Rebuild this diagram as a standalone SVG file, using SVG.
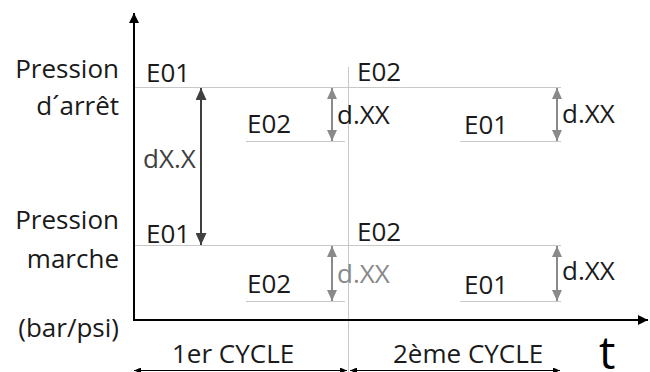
<svg xmlns="http://www.w3.org/2000/svg" width="650" height="372" viewBox="0 0 650 372">
<style>
text{font-family:"Open Sans","Liberation Sans",Arial,sans-serif;font-size:26px;fill:#1a1a1a}
.lbl{text-anchor:end}
.grid{stroke:#c8c8c8;stroke-width:1;fill:none}
.axis{stroke:#000;stroke-width:2;fill:none}
.dim{stroke:#404040;stroke-width:2;fill:none}
.sdim{stroke:#8a8a8a;stroke-width:2;fill:none}
.cyc{stroke:#000;stroke-width:1;fill:none}
</style>
<defs>
<marker id="ah" markerUnits="userSpaceOnUse" markerWidth="10" markerHeight="10" refX="10" refY="5" orient="auto-start-reverse"><path d="M0,0L10,5L0,10z" fill="#000"/></marker>
<marker id="dh" markerUnits="userSpaceOnUse" markerWidth="12" markerHeight="11" refX="12" refY="5.5" orient="auto-start-reverse"><path d="M0,0L12,5.5L0,11z" fill="#404040"/></marker>
<marker id="gh" markerUnits="userSpaceOnUse" markerWidth="11" markerHeight="10" refX="11" refY="5" orient="auto-start-reverse"><path d="M0,0L11,5L0,10z" fill="#8a8a8a"/></marker>
<marker id="ch" markerUnits="userSpaceOnUse" markerWidth="7" markerHeight="6" refX="7" refY="3" orient="auto-start-reverse"><path d="M0,0L7,3L0,6z" fill="#000"/></marker>
</defs>
<g id="grid">
<line class="grid" x1="134" y1="87.5" x2="561" y2="87.5"/>
<line class="grid" x1="246" y1="141.5" x2="345" y2="141.5"/>
<line class="grid" x1="460" y1="141.5" x2="561" y2="141.5"/>
<line class="grid" x1="134" y1="245.5" x2="561" y2="245.5"/>
<line class="grid" x1="246" y1="301.5" x2="345" y2="301.5"/>
<line class="grid" x1="460" y1="301.5" x2="561" y2="301.5"/>
<line class="grid" x1="348.5" y1="67" x2="348.5" y2="372" stroke="#d4d4d4"/>
</g>
<g id="axes">
<line class="axis" x1="134" y1="321" x2="134" y2="13" marker-end="url(#ah)"/>
<line class="axis" x1="133" y1="320" x2="648" y2="320" marker-end="url(#ah)"/>
</g>
<g id="connectors">
<line class="dim" x1="201" y1="88" x2="201" y2="245" marker-start="url(#dh)" marker-end="url(#dh)"/>
<line class="sdim" x1="332" y1="88" x2="332" y2="141" marker-start="url(#gh)" marker-end="url(#gh)"/>
<line class="sdim" x1="557" y1="88" x2="557" y2="141" marker-start="url(#gh)" marker-end="url(#gh)"/>
<line class="sdim" x1="332" y1="246" x2="332" y2="301" marker-start="url(#gh)" marker-end="url(#gh)"/>
<line class="sdim" x1="557" y1="246" x2="557" y2="301" marker-start="url(#gh)" marker-end="url(#gh)"/>
<line class="cyc" x1="134" y1="370.5" x2="347" y2="370.5" marker-start="url(#ch)" marker-end="url(#ch)"/>
<line class="cyc" x1="350" y1="370.5" x2="560" y2="370.5" marker-start="url(#ch)" marker-end="url(#ch)"/>
</g>
<g id="axis-labels">
<text class="lbl" x="119" y="78">Pression</text>
<text class="lbl" x="119" y="115">d´arrêt</text>
<text class="lbl" x="119" y="229">Pression</text>
<text class="lbl" x="119" y="268">marche</text>
<text class="lbl" x="119" y="337">(bar/psi)</text>
<text x="599" y="369" style="font-size:46px;fill:#000">t</text>
</g>
<g id="cycle1">
<text x="146" y="82">E01</text>
<text x="247" y="133">E02</text>
<text x="143" y="168" style="fill:#404040">dX.X</text>
<text x="337" y="124">d.XX</text>
<text x="146" y="243">E01</text>
<text x="247" y="293">E02</text>
<text x="337" y="283" style="fill:#888">d.XX</text>
<text x="172" y="363">1er CYCLE</text>
</g>
<g id="cycle2">
<text x="357" y="81">E02</text>
<text x="464" y="134">E01</text>
<text x="562" y="123">d.XX</text>
<text x="357" y="241">E02</text>
<text x="464" y="294">E01</text>
<text x="562" y="280">d.XX</text>
<text x="393" y="363">2ème CYCLE</text>
</g>
</svg>
